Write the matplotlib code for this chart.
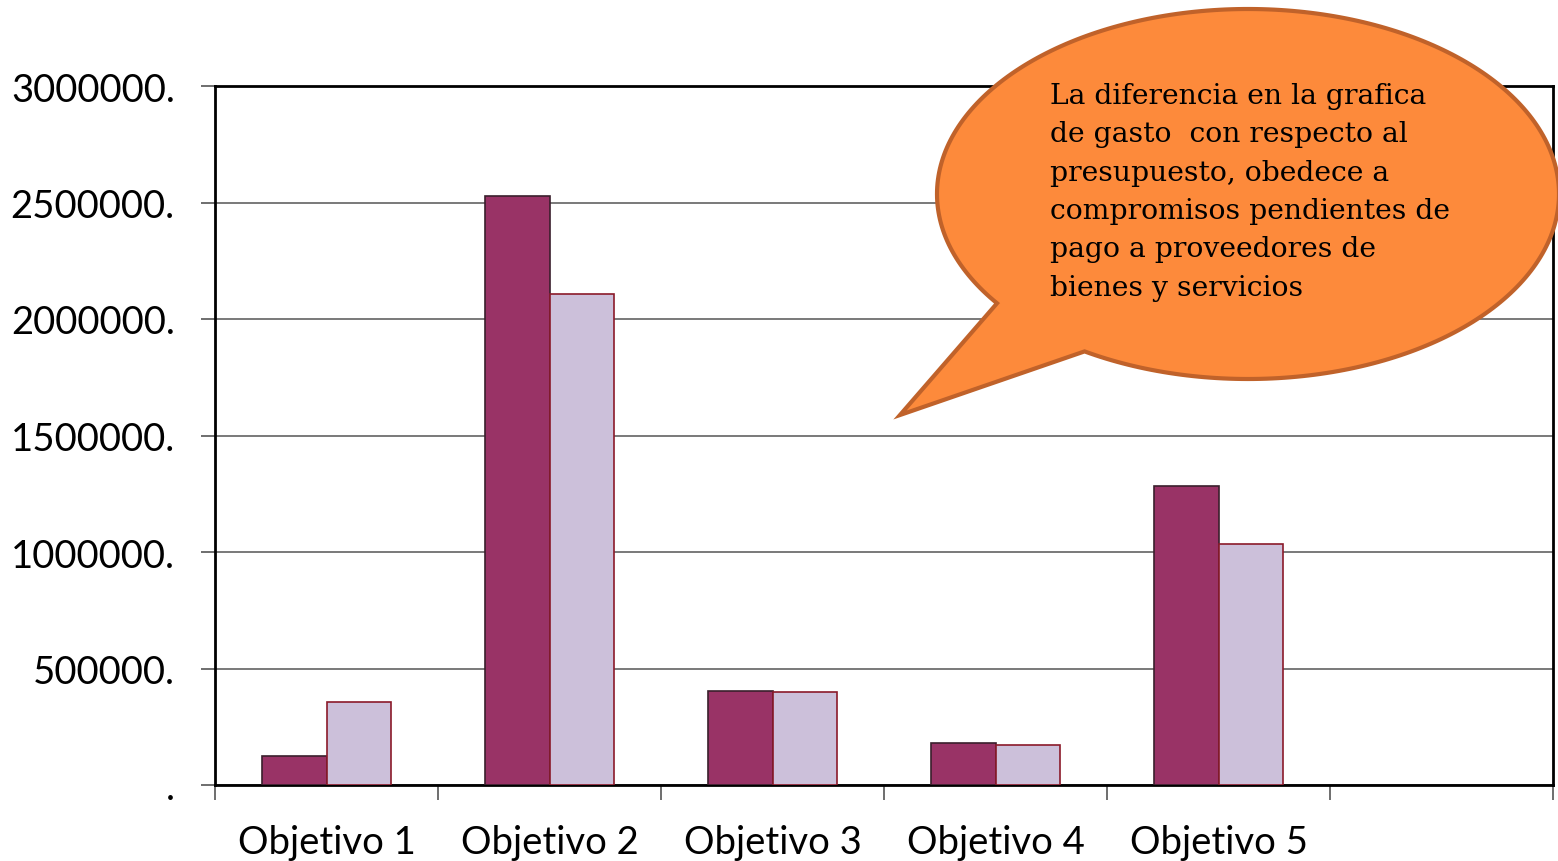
import numpy as np
from matplotlib import pyplot as plt
from matplotlib.patches import Polygon
from matplotlib.ticker import FuncFormatter, FixedLocator

# data
categories = ["Objetivo 1", "Objetivo 2", "Objetivo 3", "Objetivo 4", "Objetivo 5"]
presupuesto = [125000, 2528000, 403000, 180000, 1283000]
gasto = [356000, 2107000, 399000, 172000, 1034000]
y_ticks = [0, 500000, 1000000, 1500000, 2000000, 2500000, 3000000]
callout_text = ("La diferencia en la grafica\n"
                "de gasto  con respecto al\n"
                "presupuesto, obedece a\n"
                "compromisos pendientes de\n"
                "pago a proveedores de\n"
                "bienes y servicios")

W, H = 1558, 862
fig = plt.figure(figsize=(W / 100, H / 100), dpi=100)
ax = fig.add_axes([215 / W, 1 - 786 / H, (1553 - 215) / W, (786 - 87) / H])

n_slots = 6
x = np.arange(len(categories))
bw = 0.287
ax.bar(x - bw / 2, presupuesto, bw, color="#993366", edgecolor="#3a1f2c", linewidth=1.2, zorder=3)
ax.bar(x + bw / 2, gasto, bw, color="#ccc0da", edgecolor="#8b1a2a", linewidth=1.2, zorder=3)

ax.set_xlim(-0.5, n_slots - 0.5)
ax.set_ylim(0, 3000000)
ax.set_yticks(y_ticks)
ax.yaxis.set_major_formatter(FuncFormatter(lambda v, p: f"{int(v)}." if v else "."))
ax.grid(axis="y", color="#555555", linewidth=1.1, zorder=0)

# ticks at slot boundaries, labels at slot centres
ax.xaxis.set_major_locator(FixedLocator(np.arange(n_slots + 1) - 0.5))
ax.xaxis.set_major_formatter(FuncFormatter(lambda v, p: ""))
ax.xaxis.set_minor_locator(FixedLocator(x))
ax.set_xticklabels(categories, minor=True)
ax.tick_params(axis="x", which="major", direction="out", length=11, width=1.2, color="#555555")
ax.tick_params(axis="x", which="minor", length=0, pad=28)
ax.tick_params(axis="y", direction="out", length=10, width=1.2, color="#555555", pad=19)
for lab in ax.get_xticklabels(minor=True) + ax.get_yticklabels():
    lab.set_fontfamily("Lato")
    lab.set_fontsize(27.5)

for s in ax.spines.values():
    s.set_linewidth(2)
    s.set_color("black")

# speech bubble, built in pixel coords and converted to figure fraction
cx, cy, a, b = 1248, 195, 311, 185
t = np.radians(np.linspace(143.8, 121.7 + 360, 300))
px = cx + a * np.cos(t)
py = cy + b * np.sin(t)
px = np.append(px, 900)
py = np.append(py, 416)
pts = np.column_stack([px / W, 1 - py / H])
bubble = Polygon(pts, closed=True, facecolor="#fd8a3b", edgecolor="#c0622a",
                 linewidth=3, transform=fig.transFigure, zorder=10)
fig.patches.append(bubble)

fig.text(1050 / W, 1 - 83 / H, callout_text, family="DejaVu Serif", fontsize=20.3,
         va="top", ha="left", linespacing=1.54, zorder=11)

fig.savefig("out.png", dpi=100)
